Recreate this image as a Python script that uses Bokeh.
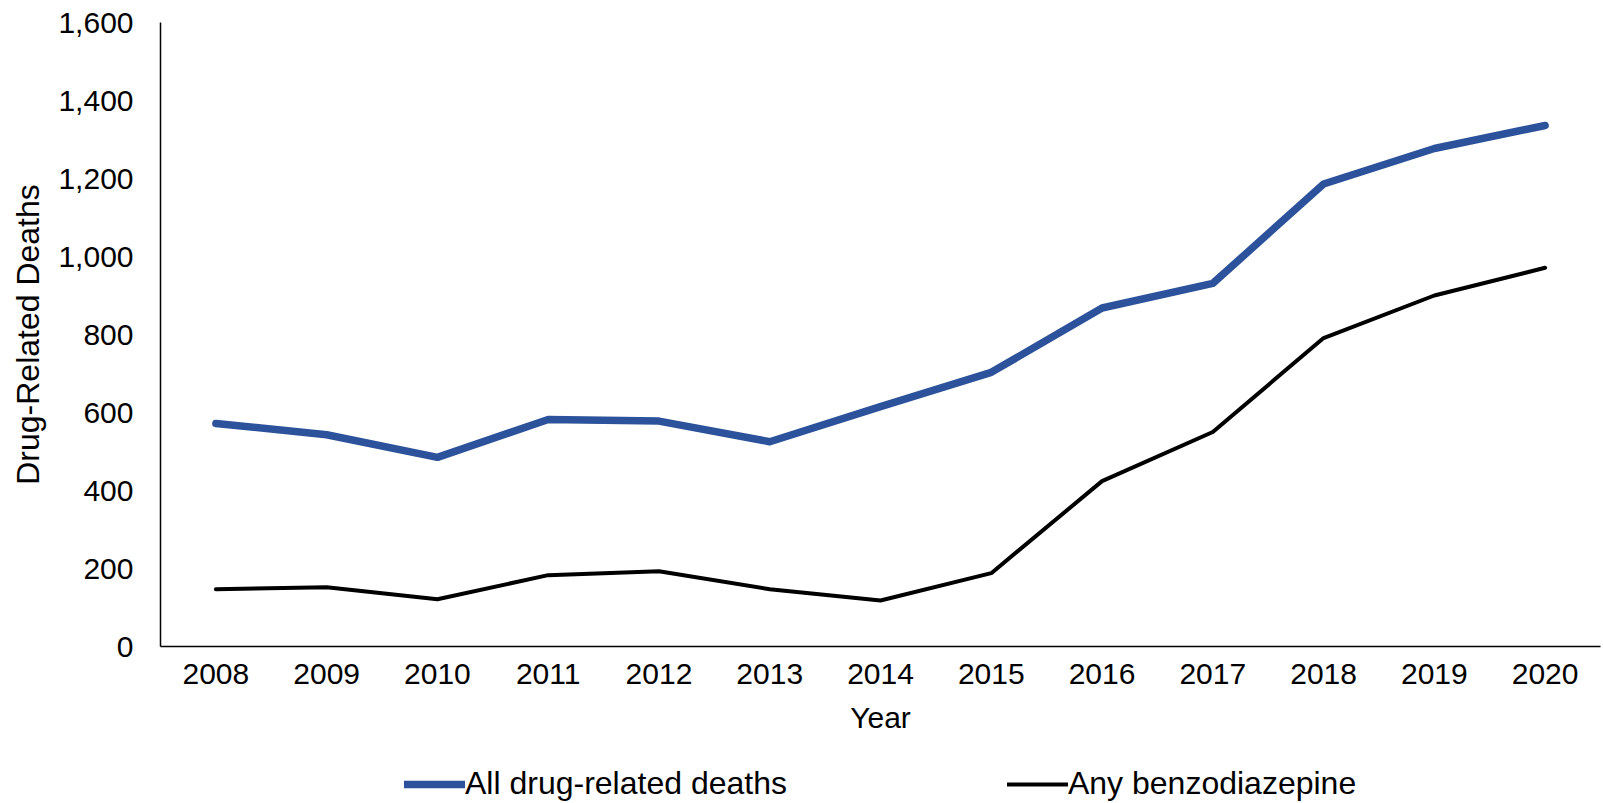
from bokeh.plotting import figure
from bokeh.layouts import column
from bokeh.models import FactorRange, Range1d, Legend, LegendItem, NumeralTickFormatter, FixedTicker
from bokeh.embed import file_html
from bokeh.resources import INLINE

years = ["2008", "2009", "2010", "2011", "2012", "2013", "2014",
         "2015", "2016", "2017", "2018", "2019", "2020"]
all_deaths = [572, 543, 485, 582, 578, 525, 615, 703, 868, 931, 1186, 1277, 1336]
any_benzo = [147, 152, 121, 183, 193, 147, 118, 188, 424, 550, 791, 900, 971]
y_ticks = [0, 200, 400, 600, 800, 1000, 1200, 1400, 1600]
series_labels = ["All drug-related deaths", "Any benzodiazepine"]

FONT = "Liberation Sans"
BLUE = "#2B529A"

p = figure(width=1603, height=750,
           x_range=FactorRange(factors=years, range_padding=0),
           y_range=Range1d(0, 1600),
           output_backend="svg", toolbar_location=None,
           min_border_left=160, min_border_right=3,
           min_border_top=22, min_border_bottom=104)

r1 = p.line(years, all_deaths, line_color=BLUE, line_width=7.5,
            line_cap="round", line_join="round")
r2 = p.line(years, any_benzo, line_color="black", line_width=4,
            line_cap="round", line_join="round")

p.outline_line_color = None
p.xgrid.grid_line_color = None
p.ygrid.grid_line_color = None

for ax in (p.xaxis[0], p.yaxis[0]):
    ax.axis_line_color = "black"
    ax.axis_line_width = 1.5
    ax.major_tick_line_color = None
    ax.minor_tick_line_color = None
    ax.major_tick_out = 0
    ax.major_tick_in = 0
    ax.major_label_text_font = FONT
    ax.major_label_text_font_size = "30px"
    ax.major_label_text_color = "black"
    ax.axis_label_text_font = FONT
    ax.axis_label_text_font_style = "normal"
    ax.axis_label_text_color = "black"

p.xaxis.axis_label = "Year"
p.xaxis.axis_label_text_font_size = "30px"
p.xaxis.major_label_standoff = 17
p.xaxis.axis_label_standoff = 14

p.yaxis.axis_label = "Drug-Related Deaths"
p.yaxis.axis_label_text_font_size = "32px"
p.yaxis.ticker = FixedTicker(ticks=y_ticks)
p.yaxis.formatter = NumeralTickFormatter(format="0,0")
p.yaxis.major_label_standoff = 27
p.yaxis.axis_label_standoff = 9

# legend strip below the chart (same series, drawn out of view; only the legend shows)
lg = figure(width=1603, height=53, output_backend="svg", toolbar_location=None,
            x_range=FactorRange(factors=years, range_padding=0),
            y_range=Range1d(-2000, -1000),
            x_axis_location=None, y_axis_location=None,
            min_border_left=160, min_border_right=3, min_border_top=0, min_border_bottom=0)
lg.outline_line_color = None
lg.xgrid.grid_line_color = None
lg.ygrid.grid_line_color = None
d1 = lg.line(years, all_deaths, line_color=BLUE, line_width=7.5, line_cap="round")
d2 = lg.line(years, any_benzo, line_color="black", line_width=4, line_cap="round")

legend = Legend(items=[LegendItem(label=series_labels[0], renderers=[d1]),
                       LegendItem(label=series_labels[1], renderers=[d2])],
                orientation="horizontal",
                location=(244, 1),
                glyph_width=61, glyph_height=36, label_height=36, label_standoff=0,
                spacing=220, padding=0, margin=0,
                label_text_font=FONT, label_text_font_size="32px",
                label_text_color="black",
                border_line_color=None, background_fill_alpha=0)
lg.add_layout(legend, "center")

layout = column(p, lg, spacing=0)
open("out.html", "w").write(file_html(layout, INLINE))
